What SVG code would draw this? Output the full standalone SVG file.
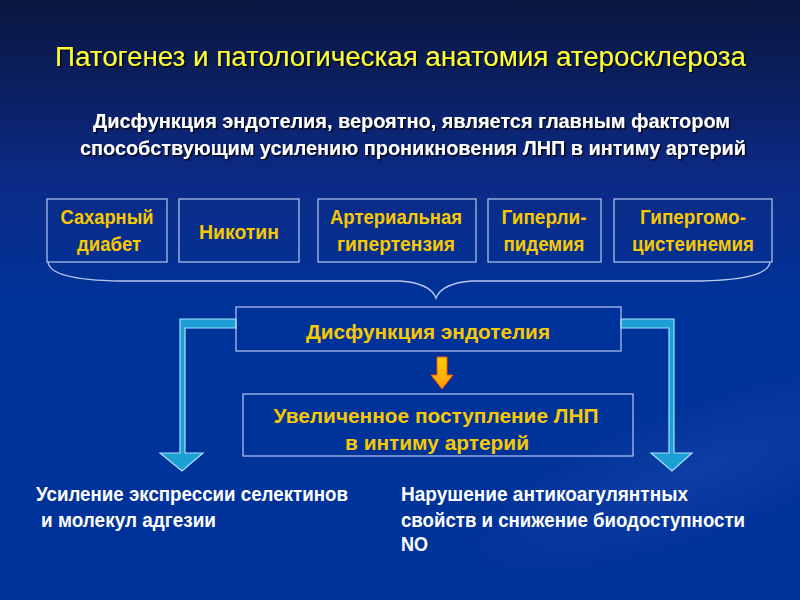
<svg xmlns="http://www.w3.org/2000/svg" width="800" height="600" viewBox="0 0 800 600">
<defs>
<linearGradient id="bg" x1="0" y1="0" x2="0" y2="1">
<stop offset="0" stop-color="#0a1640"/>
<stop offset="0.3" stop-color="#0c2a86"/>
<stop offset="0.5" stop-color="#003399"/>
<stop offset="1" stop-color="#00339a"/>
</linearGradient>
<radialGradient id="sw" cx="0.5" cy="0.5" r="0.5">
<stop offset="0" stop-color="#2a52b8" stop-opacity="0.35"/>
<stop offset="1" stop-color="#2a52b8" stop-opacity="0"/>
</radialGradient>
<linearGradient id="ya" x1="0" y1="0" x2="0" y2="1">
<stop offset="0" stop-color="#ffd200"/>
<stop offset="1" stop-color="#ff9a00"/>
</linearGradient>
<filter id="sh" filterUnits="userSpaceOnUse" x="0" y="0" width="800" height="600">
<feDropShadow dx="1.5" dy="1.5" stdDeviation="0.6" flood-color="#000000" flood-opacity="0.8"/>
</filter>
<style>
.box{fill:none;stroke:#b8c8f0;stroke-width:1.2}
.bt{font-family:"Liberation Sans Narrow","Liberation Sans",sans-serif;font-weight:bold;fill:#f8c800;text-anchor:middle;font-size:21px}
.wt{font-family:"Liberation Sans Narrow","Liberation Sans",sans-serif;font-weight:bold;fill:#ffffff;font-size:21px}
.arr{fill:#1c9fd4;stroke:#a6e2ff;stroke-width:1.2;stroke-linejoin:miter}
</style>
</defs>
<rect width="800" height="600" fill="url(#bg)"/>
<ellipse cx="700" cy="470" rx="260" ry="70" transform="rotate(-20 700 470)" fill="url(#sw)"/>

<g id="title" filter="url(#sh)">
<text x="400.5" y="66" text-anchor="middle" font-family="'Liberation Sans Narrow','Liberation Sans',sans-serif" font-size="27" fill="#ffff33" textLength="691" lengthAdjust="spacingAndGlyphs">Патогенез и патологическая анатомия атеросклероза</text>
</g>

<g id="subtitle" filter="url(#sh)">
<text class="wt" x="93" y="128" font-size="22" textLength="637" lengthAdjust="spacingAndGlyphs">Дисфункция эндотелия, вероятно, является главным фактором</text>
<text class="wt" x="80" y="155" font-size="22" textLength="666" lengthAdjust="spacingAndGlyphs">способствующим усилению проникновения ЛНП в интиму артерий</text>
</g>

<g id="diabetes">
<rect class="box" x="47" y="199" width="120" height="63"/>
<text class="bt" x="107" y="224" textLength="93" lengthAdjust="spacingAndGlyphs">Сахарный</text>
<text class="bt" x="109" y="251" textLength="64" lengthAdjust="spacingAndGlyphs">диабет</text>
</g>
<g id="nicotine">
<rect class="box" x="179" y="199" width="120" height="63"/>
<text class="bt" x="239" y="239" textLength="80" lengthAdjust="spacingAndGlyphs">Никотин</text>
</g>
<g id="hypertension">
<rect class="box" x="318" y="199" width="158" height="63"/>
<text class="bt" x="396" y="224" textLength="132" lengthAdjust="spacingAndGlyphs">Артериальная</text>
<text class="bt" x="396" y="251" textLength="118" lengthAdjust="spacingAndGlyphs">гипертензия</text>
</g>
<g id="hyperlipidemia">
<rect class="box" x="488" y="199" width="113" height="63"/>
<text class="bt" x="544" y="224" textLength="85" lengthAdjust="spacingAndGlyphs">Гиперли-</text>
<text class="bt" x="544" y="251" textLength="81" lengthAdjust="spacingAndGlyphs">пидемия</text>
</g>
<g id="hyperhomocysteinemia">
<rect class="box" x="614" y="199" width="158" height="63"/>
<text class="bt" x="693" y="224" textLength="106" lengthAdjust="spacingAndGlyphs">Гипергомо-</text>
<text class="bt" x="693" y="251" textLength="122" lengthAdjust="spacingAndGlyphs">цистеинемия</text>
</g>

<g id="connectors">
<path d="M48,262 Q50,280 120,281 L400,281 Q430,283 436,298 Q442,283 472,281 L700,281 Q768,280 770,262" fill="none" stroke="#b8c8f0" stroke-width="1.4"/>
<polygon class="arr" points="236,319 180,319 180,453 160,453 182,471 203,453 185,453 185,328 236,328"/>
<polygon class="arr" points="621,319 674,319 674,453 692,453 672,471 651,453 669,453 669,328 621,328"/>
<polygon points="437,357 447,357 447,375 453,375 442,389 431,375 437,375" fill="url(#ya)" stroke="#ff4a10" stroke-width="1"/>
</g>

<g id="dysfunction">
<rect class="box" x="236" y="307" width="385" height="44" fill="#003399"/>
<text class="bt" x="428" y="339" font-size="24" textLength="244" lengthAdjust="spacingAndGlyphs">Дисфункция эндотелия</text>
</g>
<g id="ldl">
<rect class="box" x="243" y="394" width="390" height="62"/>
<text class="bt" x="436" y="423" font-size="24" textLength="325" lengthAdjust="spacingAndGlyphs">Увеличенное поступление ЛНП</text>
<text class="bt" x="437" y="450" font-size="24" textLength="184" lengthAdjust="spacingAndGlyphs">в интиму артерий</text>
</g>

<g id="left-effect">
<text class="wt" x="36" y="501" font-size="20" textLength="312" lengthAdjust="spacingAndGlyphs">Усиление экспрессии селектинов</text>
<text class="wt" x="41" y="527" font-size="20" textLength="175" lengthAdjust="spacingAndGlyphs">и молекул адгезии</text>
</g>
<g id="right-effect">
<text class="wt" x="401" y="501" font-size="20" textLength="287" lengthAdjust="spacingAndGlyphs">Нарушение антикоагулянтных</text>
<text class="wt" x="401" y="527" font-size="20" textLength="344" lengthAdjust="spacingAndGlyphs">свойств и снижение биодоступности</text>
<text class="wt" x="401" y="551" font-size="20" textLength="27" lengthAdjust="spacingAndGlyphs">NO</text>
</g>
</svg>
